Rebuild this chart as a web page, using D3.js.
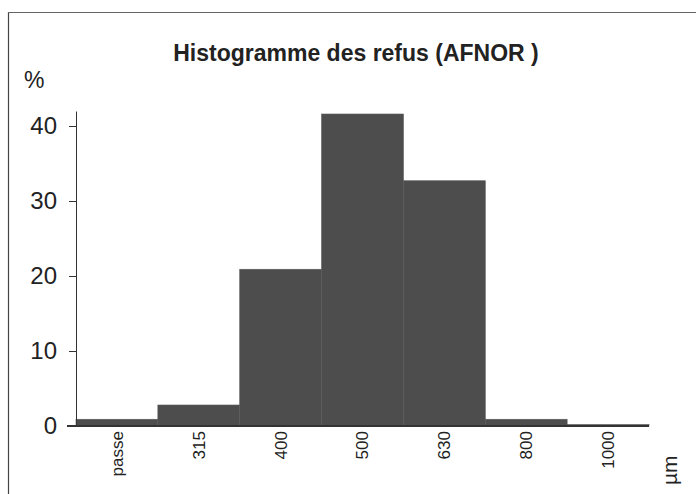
<!DOCTYPE html>
<html>
<head>
<meta charset="utf-8">
<script src="https://cdn.jsdelivr.net/npm/d3@7"></script>
<style>
  body { margin: 0; background: #fff; }
  svg { display: block; font-family: "Liberation Sans", Arial, sans-serif; }
</style>
</head>
<body>
<div id="chart"></div>
<script>
// sieve sizes (µm) and % retained
const categories = ["passe", "315", "400", "500", "630", "800", "1000"];
const values = [0.9, 2.8, 20.9, 41.6, 32.7, 0.9, 0.2];
const yTicks = [0, 10, 20, 30, 40];

function init() {
    var w = 696;
    var h = 494;
    var left = 76, right = 649, bottom = 426, top = 111;

    var svg = d3.select("#chart").append("svg")
        .attr("width", w)
        .attr("height", h);

    // frame of the scanned sheet
    svg.append("line").attr("x1", 8.5).attr("x2", 8.5).attr("y1", 12).attr("y2", h)
        .attr("stroke", "#444").attr("stroke-width", 1.2);
    svg.append("line").attr("x1", 8).attr("x2", w).attr("y1", 12.5).attr("y2", 12.5)
        .attr("stroke", "#666").attr("stroke-width", 1.2);

    var x = d3.scaleBand().domain(categories).range([left, right]).paddingInner(0).paddingOuter(0);
    var y = d3.scaleLinear().domain([0, 42]).range([bottom, top]);

    svg.append("text")
        .attr("x", 356)
        .attr("y", 61)
        .attr("text-anchor", "middle")
        .style("font-size", "23px")
        .style("font-weight", "bold")
        .attr("fill", "#222")
        .text("Histogramme des refus (AFNOR )");

    svg.append("text")
        .attr("x", 24)
        .attr("y", 88)
        .style("font-size", "23px")
        .attr("fill", "#222")
        .text("%");

    svg.selectAll("rect.bar")
        .data(values)
        .join("rect")
        .attr("class", "bar")
        .attr("x", (d, i) => x(categories[i]))
        .attr("width", x.bandwidth())
        .attr("y", d => y(d))
        .attr("height", d => y(0) - y(d))
        .attr("fill", "#4d4d4d")
        .attr("stroke", "#5a5a5a")
        .attr("stroke-width", 0.6);

    var yAxis = svg.append("g")
        .attr("transform", `translate(${left},0)`)
        .call(d3.axisLeft(y).tickValues(yTicks).tickSize(7).tickPadding(12).tickSizeOuter(0));
    yAxis.select(".domain").attr("stroke", "#333");
    yAxis.selectAll(".tick line").attr("stroke", "#333");
    yAxis.selectAll("text")
        .style("font-size", "24px")
        .style("font-family", "'Liberation Sans', Arial, sans-serif")
        .attr("fill", "#222");

    var xAxis = svg.append("g")
        .attr("transform", `translate(0,${bottom})`)
        .call(d3.axisBottom(x).tickSize(0).tickPadding(0));
    xAxis.select(".domain").remove();
    xAxis.selectAll("text")
        .attr("transform", "rotate(-90)")
        .attr("x", -5)
        .attr("y", 0)
        .attr("dy", "0.35em")
        .style("text-anchor", "end")
        .style("font-size", "17px")
        .style("font-family", "'Liberation Sans', Arial, sans-serif")
        .attr("fill", "#222");

    svg.append("line")
        .attr("x1", 67).attr("x2", right)
        .attr("y1", bottom).attr("y2", bottom)
        .attr("stroke", "#333").attr("stroke-width", 2);

    svg.append("text")
        .attr("transform", `translate(677,485) rotate(-90)`)
        .style("font-size", "21px")
        .attr("fill", "#222")
        .text("µm");
}

window.onload = init;
</script>
</body>
</html>
